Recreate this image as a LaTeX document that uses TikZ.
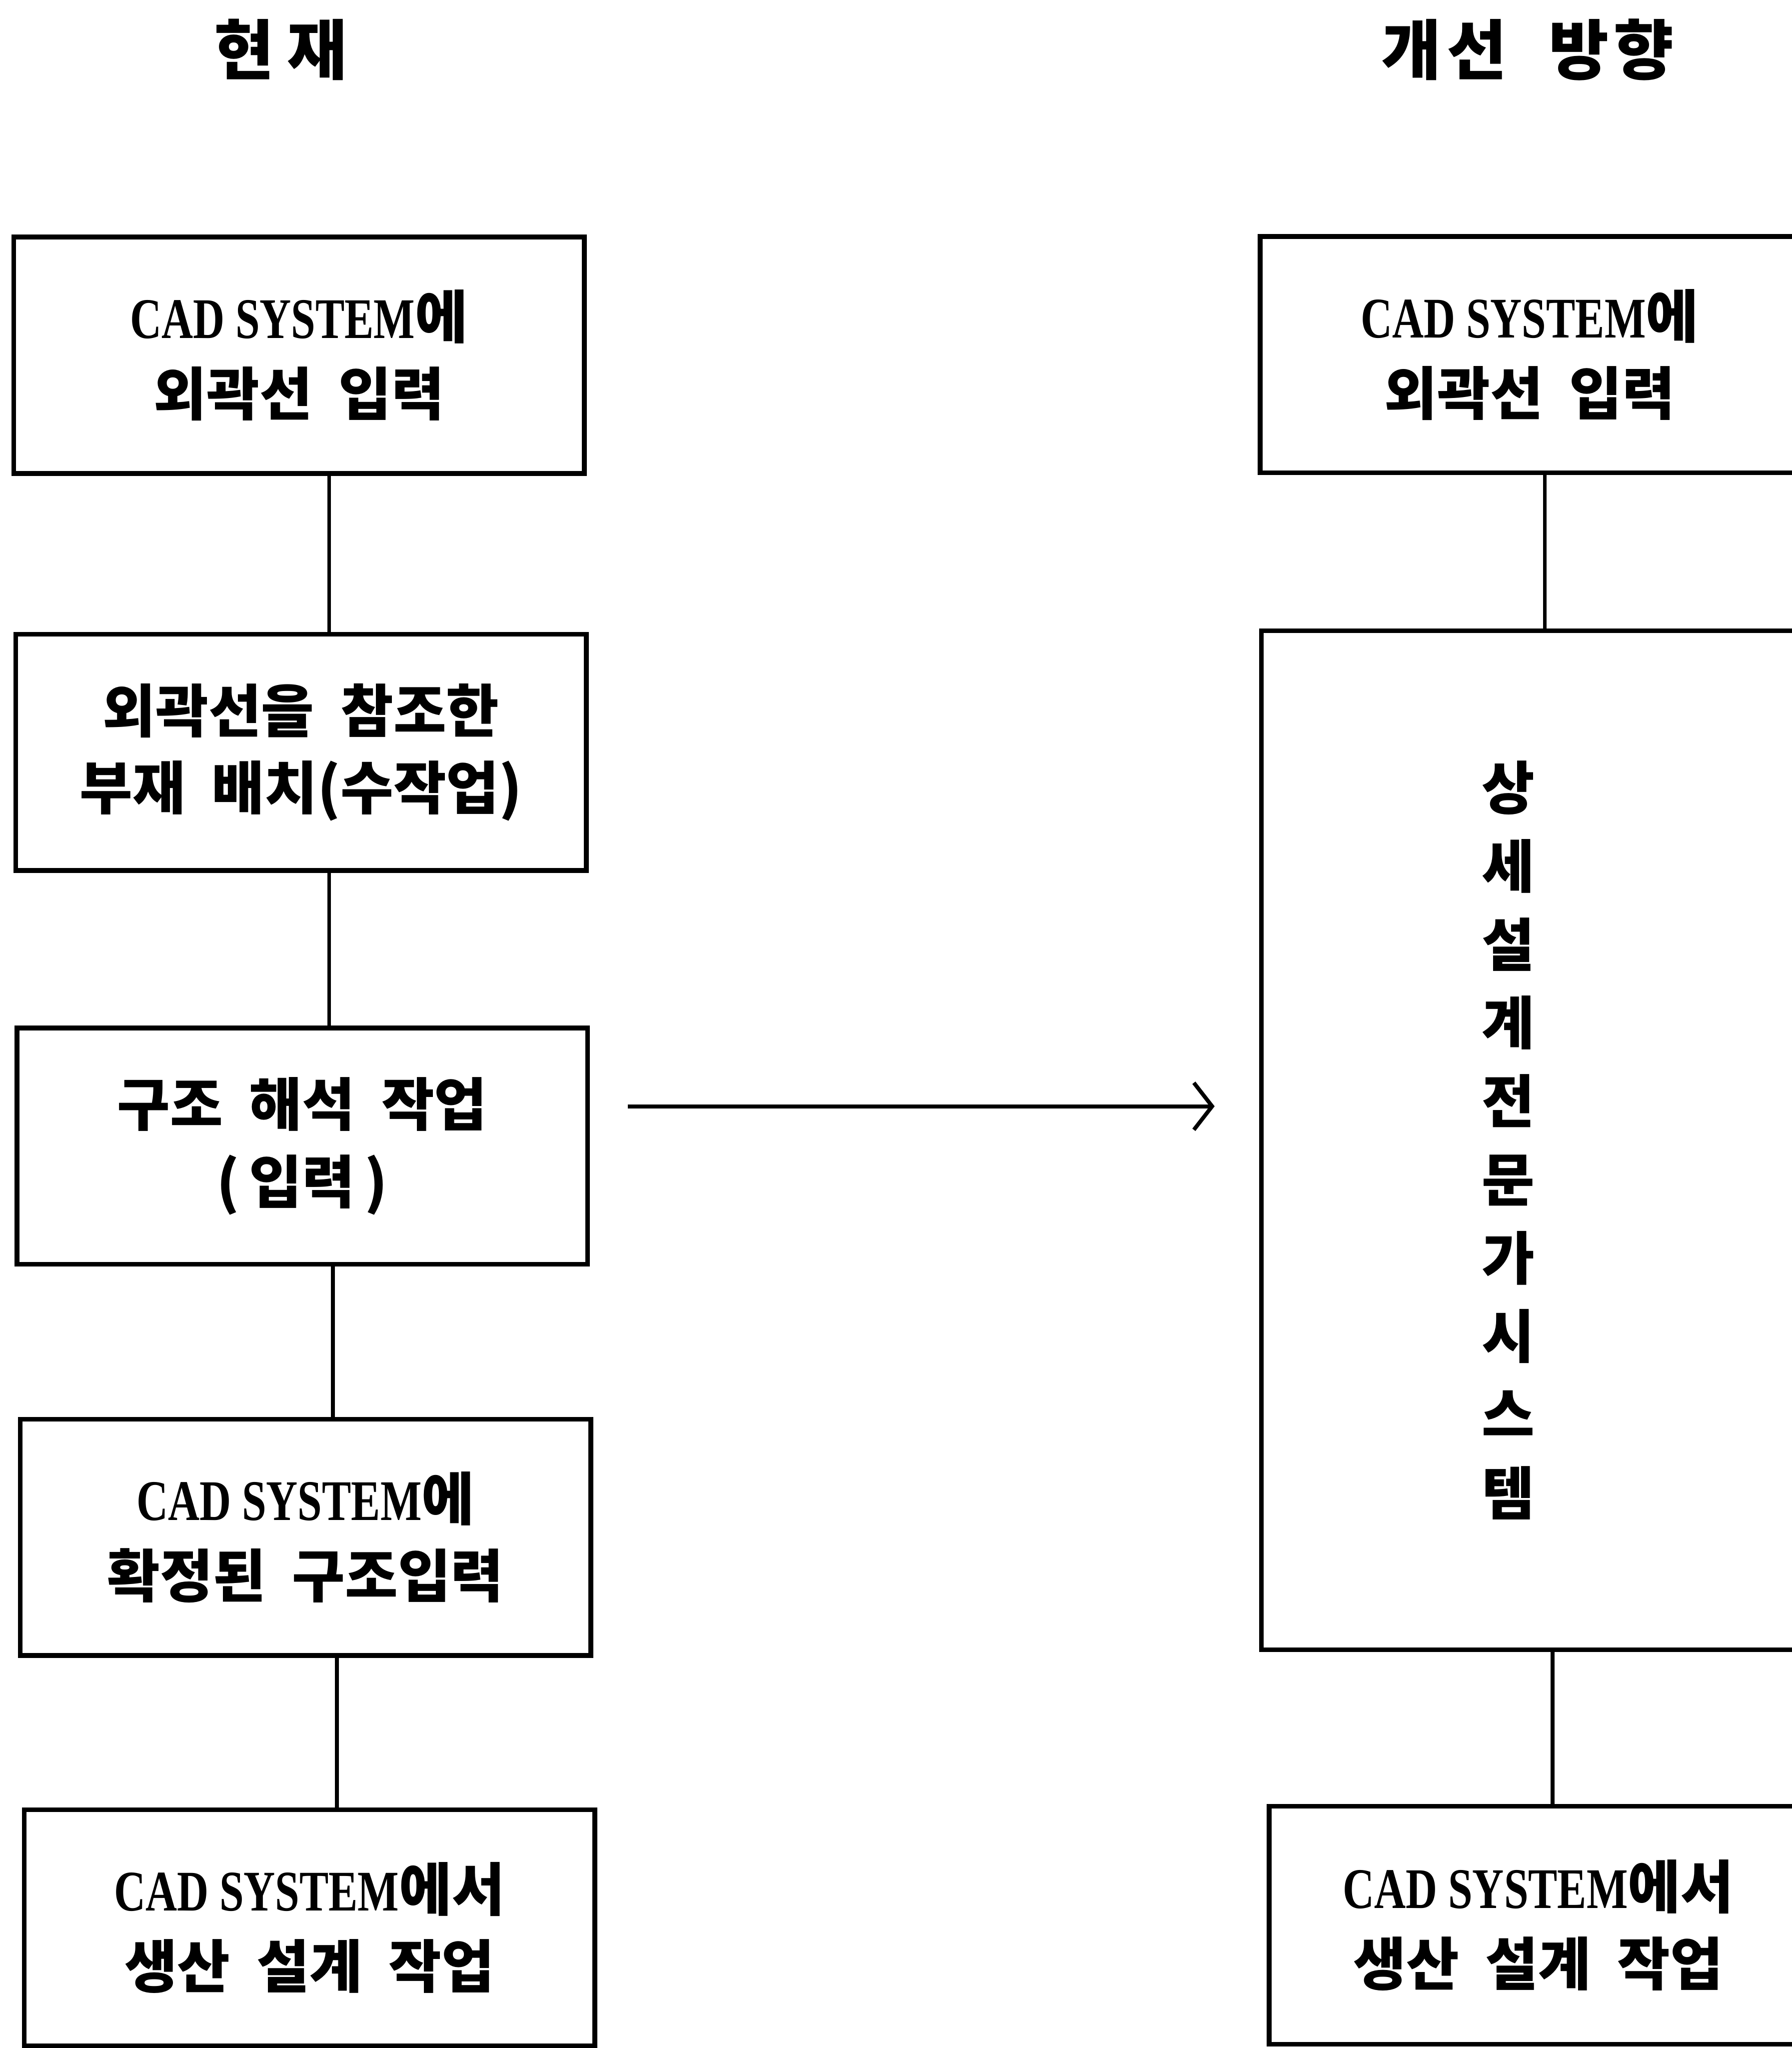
\documentclass[tikz,border=0pt]{standalone}
\usepackage{fontspec}
\newfontfamily\kr{Noto Sans CJK KR}[WordSpace=2]
\newfontfamily\lat{Liberation Serif}[FakeStretch=0.76]
\usetikzlibrary{calc,arrows.meta}
\newcommand\boxfont{\kr\bfseries\fontsize{22}{29.5}\selectfont}
\newcommand\vertfont{\kr\bfseries\fontsize{22}{30}\selectfont}
\newcommand\titlefont{\kr\bfseries\fontsize{25}{30}\selectfont}
\newcommand\cad{{\lat\bfseries CAD SYSTEM}}
\begin{document}
\begin{tikzpicture}[x=0.5pt,y=-0.5pt,
  boxL/.style={draw,line width=1.8pt,minimum width=218.5pt,minimum height=90.5pt,inner sep=0pt,align=center,font=\boxfont},
  boxR/.style={draw,line width=1.8pt,inner sep=0pt,align=center,font=\boxfont},
  link/.style={line width=1.4pt},
  title/.style={font=\titlefont,inner sep=0pt},
  vtxt/.style={font=\vertfont,align=center,inner sep=0pt},
  flow/.style={line width=1.5pt,-{Straight Barb[length=7pt,width=18pt]}}]
\useasboundingbox (0,0) rectangle (1372,1568);
\fill[white] (0,0) rectangle (1372,1568);

\node[title] (t1) at (215,38) {현\hspace{5pt}재};
\node[title] (t2) at (1170,38) {개\hspace{2pt}선\hspace{16pt}방\hspace{2pt}향};

\node[boxL] (L1) at (229,272) {\cad 에\\외곽선 입력};
\node[boxL] (L2) at (230.5,576) {외곽선을 참조한\\부재 배치(수작업)};
\node[boxL] (L3) at (231.5,877.5) {구조 해석 작업\\(\,입력\,)};
\node[boxL] (L4) at (234,1177) {\cad 에\\확정된 구조입력};
\node[boxL] (L5) at (237,1476) {\cad 에서\\생산 설계 작업};

\node[boxR,minimum width=206.5pt,minimum height=90.5pt] (R1) at (1171.5,271.5) {\cad 에\\외곽선 입력};
\node[boxR,minimum width=207pt,minimum height=390pt] (R2) at (1173,873) {};
\node[vtxt] (V) at (1155,873) {상\\세\\설\\계\\전\\문\\가\\시\\스\\템};
\node[boxR,minimum width=206pt,minimum height=91pt] (R3) at (1178,1474) {\cad 에서\\생산 설계 작업};

\draw[link] ($(L1.south)+(23,0)$) -- ($(L2.north)+(21.5,0)$);
\draw[link] ($(L2.south)+(21.5,0)$) -- ($(L3.north)+(20.5,0)$);
\draw[link] ($(L3.south)+(23.5,0)$) -- ($(L4.north)+(21,0)$);
\draw[link] ($(L4.south)+(24,0)$) -- ($(L5.north)+(21,0)$);
\draw[link] ($(R1.south)+(11.5,0)$) -- ($(R2.north)+(10,0)$);
\draw[link] ($(R2.south)+(16,0)$) -- ($(R3.north)+(11,0)$);

\draw[flow] ($(L3.east)+(29,-30.5)$) -- ($(R2.west)+(-34,-26)$);
\end{tikzpicture}
\end{document}
